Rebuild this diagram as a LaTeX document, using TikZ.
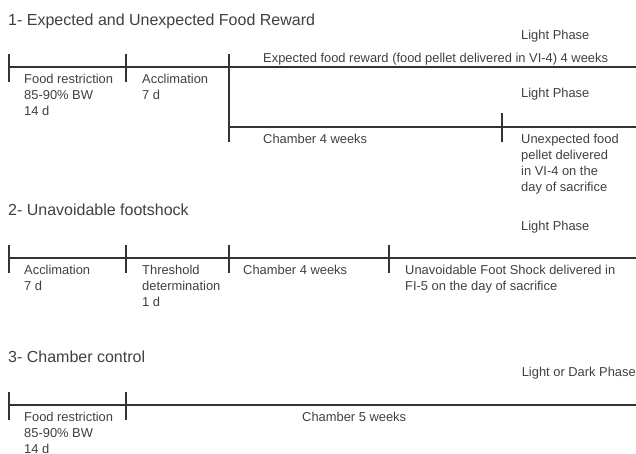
\documentclass[tikz,border=0pt]{standalone}
\usepackage{fontspec}
\setmainfont{Liberation Sans}
\usetikzlibrary{positioning}

\begin{document}
\begin{tikzpicture}[x=1pt, y=-1pt, every node/.style={font=\fontsize{12.9}{16}\selectfont, text=black!75, inner sep=0pt, align=left},
		heading/.style={font=\fontsize{16}{19}\selectfont, anchor=north west},
		timeline/.style={line width=1.2pt, draw=black!80}]
				\useasboundingbox (0,0) rectangle (636,454);
				
				% 1- expected and unexpected food reward
				\node[heading] (head1) at (8,14) {1- Expected and Unexpected Food Reward};
				\coordinate (a0) at (9,67);
				\coordinate (a1) at (126,67);
				\coordinate (a2) at (229,67);
				\coordinate (aend) at (636,67);
				\coordinate (b0) at (229,127);
				\coordinate (b1) at (502,127);
				\coordinate (bend) at (636,127);
				
				\draw[timeline] (a0) -- (aend);
				\draw[timeline] (b0) -- (bend);
				\draw[timeline] (a0) ++(0,-13) -- ++(0,28);
				\draw[timeline] (a1) ++(0,-13) -- ++(0,28);
				\draw[timeline] (a2) ++(0,-13) -- ([yshift=-15pt]b0);
				\draw[timeline] (b1) ++(0,-14) -- ++(0,29);
				
				\node[below right=6.5pt and 15pt of a0] (restr1) {Food restriction\\85-90\% BW\\14 d};
				\node[below right=6.5pt and 16pt of a1] (accl1) {Acclimation\\7 d};
				\node[above right=1.3pt and 34pt of a2] (expected) {Expected food reward (food pellet delivered in VI-4) 4 weeks};
				\node[below right=6.5pt and 34pt of b0] (chamb1) {Chamber 4 weeks};
				\node[below right=6.5pt and 19pt of b1] (unexp) {Unexpected food\\pellet delivered\\in VI-4 on the\\day of sacrifice};
				\node[above right=26.7pt and 19pt of b1] (light2) {Light Phase};
				\node[above=45.9pt of light2] (light1) {Light Phase};
				
				% 2- unavoidable footshock
				\node[heading] (head2) at (8,204) {2- Unavoidable footshock};
				\coordinate (c0) at (9,258);
				\coordinate (c1) at (126,258);
				\coordinate (c2) at (229,258);
				\coordinate (c3) at (389,258);
				\coordinate (cend) at (636,258);
				
				\draw[timeline] (c0) -- (cend);
				\draw[timeline] (c0) ++(0,-13) -- ++(0,28);
				\draw[timeline] (c1) ++(0,-13) -- ++(0,28);
				\draw[timeline] (c2) ++(0,-13) -- ++(0,28);
				\draw[timeline] (c3) ++(0,-13) -- ++(0,28);
				
				\node[below right=6.5pt and 15pt of c0] (accl2) {Acclimation\\7 d};
				\node[below right=6.5pt and 16pt of c1] (thresh) {Threshold\\determination\\1 d};
				\node[below right=6.5pt and 14pt of c2] (chamb2) {Chamber 4 weeks};
				\node[below right=6.5pt and 16pt of c3] (shock) {Unavoidable Foot Shock delivered in\\FI-5 on the day of sacrifice};
				\node[above right=24.7pt and 132pt of c3] (light3) {Light Phase};
				
				% 3- chamber control
				\node[heading] (head3) at (8,350.5) {3- Chamber control};
				\coordinate (d0) at (9,405);
				\coordinate (d1) at (126,405);
				\coordinate (dend) at (636,405);
				
				\draw[timeline] (d0) -- (dend);
				\draw[timeline] (d0) ++(0,-13) -- ++(0,28);
				\draw[timeline] (d1) ++(0,-13) -- ++(0,28);
				
				\node[below right=6.5pt and 15pt of d0] (restr3) {Food restriction\\85-90\% BW\\14 d};
				\node[below right=6.5pt and 176pt of d1] (chamb3) {Chamber 5 weeks};
				\node[above left=26pt and 0pt of dend] (light4) {Light or Dark Phase};
			\end{tikzpicture}
\end{document}
